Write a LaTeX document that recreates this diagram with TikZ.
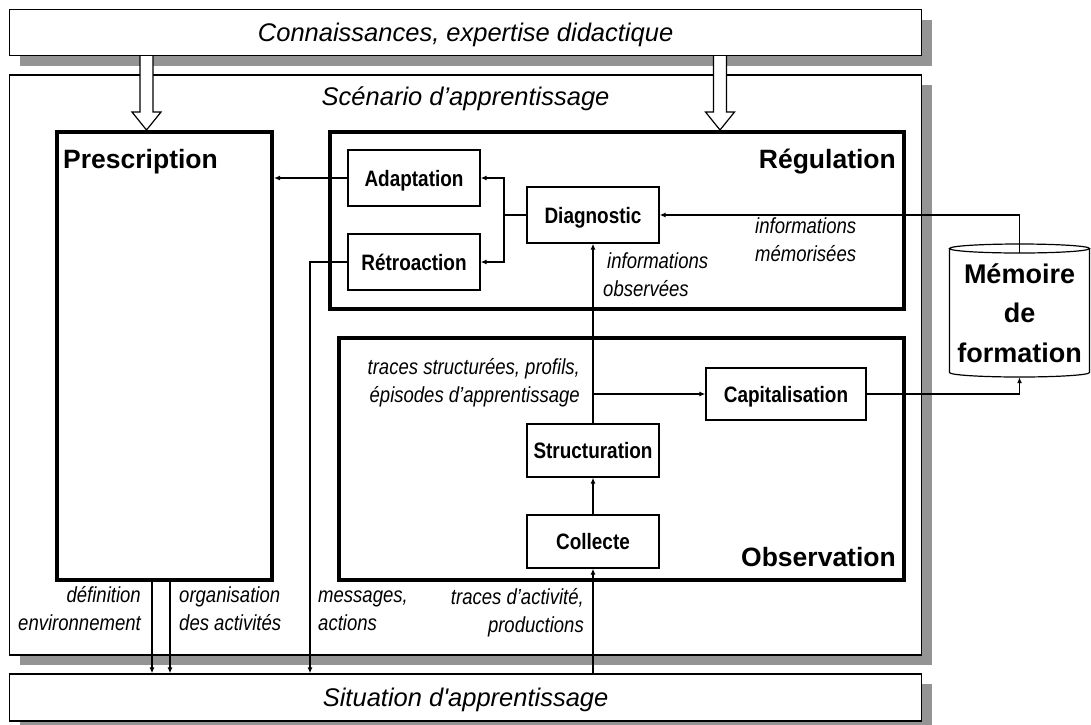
\documentclass[tikz,border=0pt]{standalone}
\usepackage{fontspec}
\setmainfont{Liberation Sans}
\newfontfamily\nfont{Liberation Sans}[FakeStretch=0.85]
\usetikzlibrary{arrows.meta,calc,shadows}
\newcommand\hollowarr[2]{%
  \draw[line width=1.2pt, fill=white] ($(#1)+(-6.5,0)$) -- ($(#2)+(-6.5,-18)$) -- ($(#2)+(-14.5,-18)$) -- (#2) -- ($(#2)+(14.5,-18)$) -- ($(#2)+(6.5,-18)$) -- ($(#1)+(6.5,0)$);}
\begin{document}
\begin{tikzpicture}[x=1pt,y=-1pt,
  shadowed/.style={drop shadow={shadow xshift=10pt,shadow yshift=-10pt,opacity=1,fill=black!42,draw=none}},
  outerbox/.style={draw,line width=1.3pt,fill=white,inner sep=0pt,shadowed,minimum width=912pt},
  ttl/.style={font=\itshape\fontsize{25.5}{30}\selectfont},
  thickbox/.style={draw,line width=4pt,inner sep=0pt},
  sbox/.style={draw,line width=1.3pt,fill=white,inner sep=0pt,minimum width=132pt,minimum height=56pt,font=\nfont\bfseries\fontsize{22.3}{25}\selectfont,text height=16pt,text depth=0pt},
  big/.style={font=\bfseries\fontsize{26.5}{30}\selectfont,inner sep=0pt},
  lab/.style={font=\nfont\itshape\fontsize{21.8}{27.5}\selectfont,inner sep=0pt},
  link/.style={line width=1.3pt},
  arr/.style={-{Latex[length=6pt,width=5pt]}}
]
\useasboundingbox (0,0) rectangle (1091,724);

% outer boxes
\node[outerbox,minimum height=46pt,ttl,text height=18.3pt,text depth=0pt] (conn) at (465.6,32.5) {Connaissances, expertise didactique};
\node[outerbox,minimum height=580pt] (scen) at (465.6,365) {};
\node[ttl,anchor=base,inner sep=0pt] (scent) at (465.6,105) {Scénario d’apprentissage};
\node[outerbox,minimum height=47pt,ttl,text height=18.3pt,text depth=0pt] (sit) at (465.6,697.5) {Situation d\textquotesingle apprentissage};

% thick boxes
\node[thickbox,minimum width=215pt,minimum height=448pt] (presc) at (164.5,356) {};
\node[thickbox,minimum width=574pt,minimum height=176.5pt] (reg) at (616.5,220.25) {};
\node[thickbox,minimum width=565pt,minimum height=242pt] (obs) at (621,459) {};
\node[big,anchor=base west] (prt) at (63,168) {Prescription};
\node[big,anchor=base east] (regt) at (896,168) {Régulation};
\node[big,anchor=base east] (obst) at (896,566) {Observation};

% hollow arrows
\coordinate (ha1) at (146.5,0);
\coordinate (ha2) at (720,0);
\hollowarr{conn.south -| ha1}{presc.north -| ha1}
\hollowarr{conn.south -| ha2}{reg.north -| ha2}

% small boxes
\node[sbox] (adapt) at (414,178) {Adaptation};
\node[sbox] (retro) at (414,262) {Rétroaction};
\node[sbox] (diag) at (593,215) {Diagnostic};
\node[sbox,minimum height=53pt] (struct) at (593,450.5) {Structuration};
\node[sbox,minimum height=53pt] (coll) at (593,541.5) {Collecte};
\node[sbox,minimum width=160pt,minimum height=52pt] (capit) at (786,394) {Capitalisation};

% memory cylinder
\node[minimum width=140pt,minimum height=133pt,inner sep=0pt] (mem) at (1019.5,310.5) {};
\draw[line width=1.2pt,fill=white] (949.5,248.5) -- (949.5,372.5) arc[start angle=180,end angle=0,x radius=70,y radius=4.5] -- (1089.5,248.5);
\draw[line width=1.2pt] (1019.5,248.5) ellipse[x radius=70,y radius=4.5];
\node[font=\bfseries\fontsize{27}{39.5}\selectfont,align=center,anchor=base,inner sep=0pt] (memt) at (1019.5,362) {Mémoire\\de\\formation};

% connectors
\draw[link,arr] (adapt.west) -- (presc.east |- adapt.west);
\coordinate (br) at (504,215);
\draw[link] (diag.west) -- (br);
\draw[link,arr] (br) |- (adapt.east);
\draw[link,arr] (br) |- (retro.east);
\coordinate (msg) at (310,0);
\draw[link,arr] (retro.west) -| (sit.north -| msg);
\coordinate (p1) at (152,0);
\coordinate (p2) at (170,0);
\draw[link,arr] (presc.south -| p1) -- (sit.north -| p1);
\draw[link,arr] (presc.south -| p2) -- (sit.north -| p2);
\draw[link,arr] (sit.north -| coll) -- (coll.south);
\draw[link,arr] (coll.north) -- (struct.south);
\draw[link,arr] (struct.north) -- (diag.south);
\draw[link,arr] (struct.north |- capit.west) -- (capit.west);
\draw[link,arr] (capit.east) -| (mem.south);
\coordinate (memtop) at (1019.5,253);
\draw[link,arr] (memtop) |- (diag.east);

% labels
\node[lab,anchor=base west,align=left] (io) at (603,296) {\hspace{4pt}informations\\observées};
\node[lab,anchor=base west,align=left] (im) at (755,261) {informations\\mémorisées};
\node[lab,anchor=base east,align=right] (tsp) at (580,402) {traces structurées, profils,\\épisodes d’apprentissage};
\node[lab,anchor=base east,align=right] (de) at (141,630) {définition\\environnement};
\node[lab,anchor=base west,align=left] (oa) at (179,630) {organisation\\des activités};
\node[lab,anchor=base west,align=left] (ma) at (318,630) {messages,\\actions};
\node[lab,anchor=base east,align=right] (ta) at (584,632) {traces d’activité,\\productions};
\end{tikzpicture}
\end{document}
